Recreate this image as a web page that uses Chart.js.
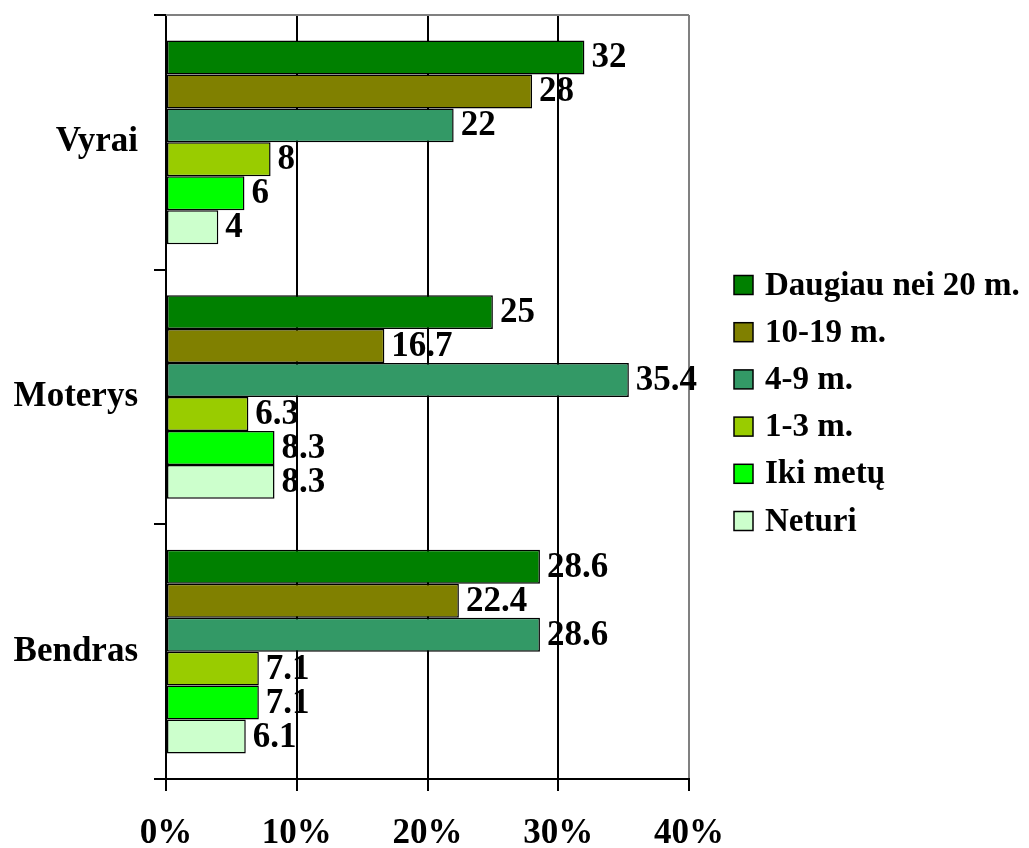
<!DOCTYPE html>
<html>
<head>
<meta charset="utf-8">
<script src="https://cdn.jsdelivr.net/npm/chart.js@4.4.1/dist/chart.umd.min.js"></script>
<style>
html,body{margin:0;padding:0;background:#fff;}
canvas{display:block;}
</style>
</head>
<body>
<canvas id="c" width="1029" height="848"></canvas>
<script>
const categories = ['Vyrai', 'Moterys', 'Bendras'];
const seriesNames = ['Daugiau nei 20 m.', '10-19 m.', '4-9 m.', '1-3 m.', 'Iki metų', 'Neturi'];
const seriesColors = ['#008000', '#808000', '#339966', '#99CC00', '#00FF00', '#CCFFCC'];
const daugiau20 = [32, 25, 28.6];
const m10_19 = [28, 16.7, 22.4];
const m4_9 = [22, 35.4, 28.6];
const m1_3 = [8, 6.3, 7.1];
const ikiMetu = [6, 8.3, 7.1];
const neturi = [4, 8.3, 6.1];
const xTicks = [0, 10, 20, 30, 40];

const seriesValues = [daugiau20, m10_19, m4_9, m1_3, ikiMetu, neturi];
const FONT = 'Liberation Serif';

const datasets = seriesNames.map((n, i) => ({
  label: n,
  data: seriesValues[i],
  backgroundColor: seriesColors[i],
  borderColor: '#000',
  borderWidth: 1.5,
  borderSkipped: false,
  categoryPercentage: 0.8,
  barPercentage: 1.0
}));

const extras = {
  id: 'extras',
  beforeDatasetsDraw(chart) {
    const {ctx, chartArea: a} = chart;
    ctx.save();
    ctx.strokeStyle = '#808080';
    ctx.lineWidth = 2;
    ctx.beginPath();
    ctx.moveTo(a.left, a.top);
    ctx.lineTo(a.right, a.top);
    ctx.stroke();
    ctx.restore();
  },
  afterDatasetsDraw(chart) {
    const {ctx} = chart;
    ctx.save();
    ctx.font = 'bold 35px "' + FONT + '"';
    ctx.fillStyle = '#000';
    ctx.textAlign = 'left';
    ctx.textBaseline = 'middle';
    chart.data.datasets.forEach((ds, di) => {
      const meta = chart.getDatasetMeta(di);
      meta.data.forEach((bar, j) => {
        ctx.fillText(String(ds.data[j]), bar.x + 7, bar.y + 1);
      });
    });
    // legend
    ctx.font = 'bold 33px "' + FONT + '"';
    const lx = 734, ly0 = 285, step = 47.2, bs = 19;
    chart.data.datasets.forEach((ds, i) => {
      const y = ly0 + i * step;
      ctx.fillStyle = ds.backgroundColor;
      ctx.fillRect(lx, y - bs / 2, bs, bs);
      ctx.strokeStyle = '#000';
      ctx.lineWidth = 1.5;
      ctx.strokeRect(lx, y - bs / 2, bs, bs);
      ctx.fillStyle = '#000';
      ctx.fillText(ds.label, 765, y + 1);
    });
    ctx.restore();
  }
};

new Chart(document.getElementById('c'), {
  type: 'bar',
  data: { labels: categories, datasets },
  options: {
    indexAxis: 'y',
    responsive: false,
    animation: false,
    layout: { padding: { top: 15, right: 340, left: 0, bottom: 0 } },
    plugins: { legend: { display: false }, tooltip: { enabled: false } },
    scales: {
      x: {
        min: 0, max: 40,
        afterBuildTicks(scale) { scale.ticks = xTicks.map(v => ({ value: v })); },
        afterFit(scale) { scale.height = 69; },
        ticks: {
          color: '#000',
          font: { family: FONT, size: 35, weight: 'bold' },
          padding: 22,
          callback: v => v + '%'
        },
        grid: {
          color: c => (c.tick && c.tick.value === 40) ? '#808080' : '#000',
          tickColor: '#000',
          lineWidth: 2,
          tickLength: 12
        },
        border: { color: '#000', width: 2 }
      },
      y: {
        afterFit(scale) { scale.width = 166; scale.paddingTop = 0; scale.paddingBottom = 0; },
        ticks: {
          color: '#000',
          font: { family: FONT, size: 35, weight: 'bold' },
          padding: 16
        },
        grid: {
          drawOnChartArea: false,
          color: '#000',
          lineWidth: 2,
          tickLength: 12
        },
        border: { color: '#000', width: 2 }
      }
    }
  },
  plugins: [extras]
});
</script>
</body>
</html>
